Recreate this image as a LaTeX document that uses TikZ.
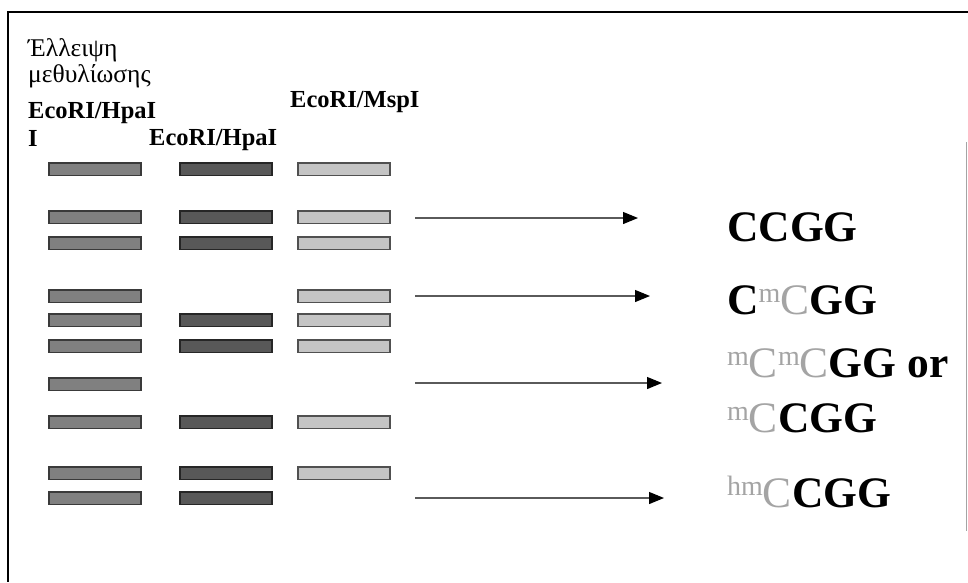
\documentclass[tikz,border=0pt]{standalone}
\usepackage{fontspec}
\setmainfont{Liberation Serif}
\usetikzlibrary{arrows.meta}
\definecolor{bandA}{HTML}{808080}
\definecolor{bandB}{HTML}{585858}
\definecolor{bandC}{HTML}{C4C4C4}
\definecolor{edgeA}{HTML}{3A3A3A}
\definecolor{edgeB}{HTML}{262626}
\definecolor{edgeC}{HTML}{505050}
\definecolor{lgr}{HTML}{A4A4A4}
\definecolor{arrline}{HTML}{5A5A5A}
\newcommand\smk[1]{\raisebox{12pt}{\fontsize{28}{28}\selectfont\mdseries\color{lgr}#1}}
\newcommand\gC{{\mdseries\color{lgr}C}}
\begin{document}
\begin{tikzpicture}[x=1pt,y=-1pt,
  bandbase/.style={draw, line width=1.5pt, minimum width=92pt, minimum height=12.5pt, inner sep=0pt, anchor=west},
  bA/.style={bandbase, fill=bandA, draw=edgeA},
  bB/.style={bandbase, fill=bandB, draw=edgeB},
  bC/.style={bandbase, fill=bandC, draw=edgeC},
  grk/.style={anchor=base west, inner sep=0pt, font=\fontsize{25.5}{26}\selectfont},
  hdr/.style={anchor=base west, inner sep=0pt, font=\fontsize{24.5}{28}\selectfont\bfseries},
  seq/.style={anchor=base west, inner sep=0pt, font=\fontsize{43.5}{44}\selectfont\bfseries},
  res/.style={draw=arrline, line width=1.2pt, -{Triangle[length=15pt,width=12pt,fill=black,color=black]}}
]
\useasboundingbox (0,0) rectangle (968,582);
% frame
\draw[line width=2pt] (968,12) -- (8,12) -- (8,582);
\draw[line width=1pt, color=lgr] (966,142) -- (966,531);

% headers
\node[grk] (g1) at (28,56) {Έλλειψη};
\node[grk] (g2) at (28,82) {μεθυλίωσης};
\node[hdr] (h1a) at (28,118) {EcoRI/HpaI};
\node[hdr] (h1b) at (28,146) {I};
\node[hdr] (h2) at (149,145) {EcoRI/HpaI};
\node[hdr] (h3) at (290,107) {EcoRI/MspI};

% bands: column 1 (x=48), column 2 (x=179), column 3 (x=297)
\foreach \r/\y in {1/169,2/217,3/243,4/296,5/320,6/346,7/384,8/422,9/473,10/498}
  \node[bA] (a\r) at (48,\y) {};
\foreach \r/\y in {1/169,2/217,3/243,5/320,6/346,8/422,9/473,10/498}
  \node[bB] (b\r) at (179,\y) {};
\foreach \r/\y in {1/169,2/217,3/243,4/296,5/320,6/346,8/422,9/473}
  \node[bC] (c\r) at (297,\y) {};

% arrows
\coordinate (s1) at (415,218); \coordinate (e1) at (638,218);
\coordinate (s2) at (415,296); \coordinate (e2) at (650,296);
\coordinate (s3) at (415,383); \coordinate (e3) at (662,383);
\coordinate (s4) at (415,498); \coordinate (e4) at (664,498);
\draw[res] (s1) -- (e1);
\draw[res] (s2) -- (e2);
\draw[res] (s3) -- (e3);
\draw[res] (s4) -- (e4);

% sequences
\node[seq] (q1) at (727,241) {CCGG};
\node[seq] (q2) at (727,314) {C\smk{m}\gC GG};
\node[seq] (q3) at (727,377) {\smk{m}\gC\smk{m}\gC GG or};
\node[seq] (q4) at (727,432) {\smk{m}\gC CGG};
\node[seq] (q5) at (727,507) {\smk{hm}\gC CGG};
\end{tikzpicture}
\end{document}
